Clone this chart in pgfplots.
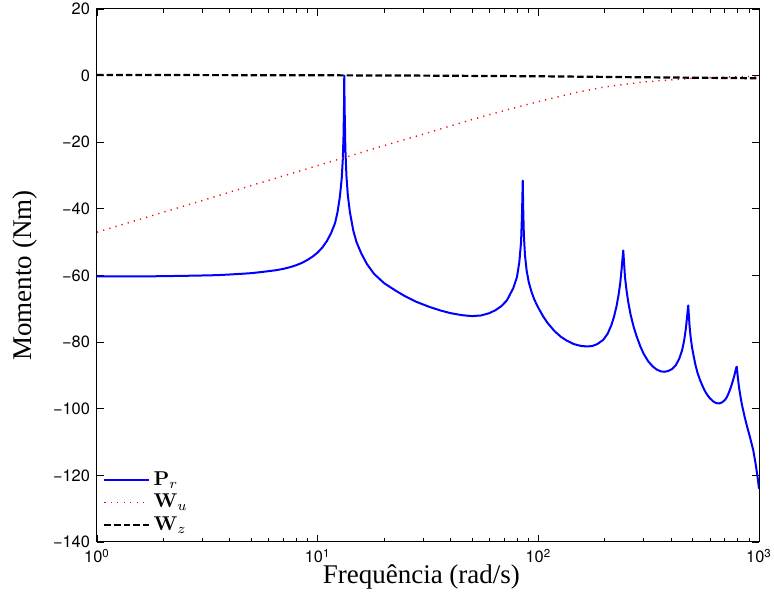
\documentclass[border=0pt]{standalone}
\usepackage[no-math]{fontspec}
\setmainfont{TeX Gyre Heros}
\newfontfamily\timesfont{Liberation Serif}
\usepackage{pgfplots}
\pgfplotsset{compat=1.18}

\begin{document}
\begin{tikzpicture}
\begin{axis}[
    name=ax,
    xmode=log,
    scale only axis,
    width=331pt, height=266.5pt,
    xmin=1, xmax=1000, ymin=-140, ymax=20,
    xtick={1,10,100,1000},
    xticklabels={10\textsuperscript{0},10\textsuperscript{1},10\textsuperscript{2},10\textsuperscript{3}},
    minor xtick={2,3,4,5,6,7,8,9,20,30,40,50,60,70,80,90,200,300,400,500,600,700,800,900},
    ytick={-140,-120,-100,-80,-60,-40,-20,0,20},
    yticklabels={−140,−120,−100,−80,−60,−40,−20,0,20},
    tick align=inside,
    major tick length=3.5pt, minor tick length=2pt,
    tick style={black, line width=0.4pt},
    axis line style={line width=0.5pt},
    ticklabel style={font=\fontsize{8.2}{9}\selectfont},
    xlabel={Frequência (rad/s)},
    ylabel={Momento (Nm)},
    label style={font=\timesfont\fontsize{13.5}{15}\selectfont},
    xlabel style={at={(axis description cs:0.49,-0.0657)}, anchor=center},
    ylabel style={at={(axis description cs:-0.109,0.5)}, anchor=center},
    legend style={draw=none, fill=none, at={(rel axis cs:0,0)}, anchor=south west,
        font=\fontsize{10}{11}\selectfont, row sep=-1pt},
    legend cell align=left,
    legend image code/.code={\draw[#1] (0pt,0pt) -- (22pt,0pt);},
]
\addplot[blue, line width=1pt, line join=round] coordinates {
(1,-60.3) (1.5,-60.3) (2,-60.2) (2.5,-60.1) (3,-60.0) (3.5,-59.9) (4,-59.7)
(4.5,-59.5) (5,-59.3) (5.5,-59.0) (6,-58.7) (6.5,-58.4) (7,-58.0) (7.5,-57.5)
(8,-56.9) (8.5,-56.2) (9,-55.3) (9.5,-54.3) (10,-53.1) (10.5,-51.6) (11,-49.7)
(11.5,-47.3) (12,-44.2) (12.3,-41) (12.6,-36.5) (12.85,-31) (13.0,-25)
(13.1,-18) (13.17,-8) (13.2,0) (13.25,-10) (13.35,-22) (13.5,-30) (13.7,-36)
(14,-41) (14.5,-46.5) (15,-50) (15.8,-53.5) (16.7,-56.5) (18,-59.5) (20,-62.3)
(22.5,-64.5) (25,-66.3) (28,-67.9) (32,-69.4) (36,-70.5) (40,-71.3) (45,-71.9)
(50,-72.2) (55,-72) (60,-71.3) (64,-70.4) (68,-69.2) (72,-67.5) (77,-63.8)
(80,-60.5) (82,-56) (83.5,-50) (84.3,-42) (84.7,-36) (85,-31.5) (85.4,-40)
(86,-48) (87,-54) (88.5,-58.5) (90.5,-62) (93,-64.8) (96,-67.3) (100,-69.7)
(105,-72.2) (110,-74.2) (118,-76.6) (126,-78.3) (134,-79.5) (145,-80.6)
(155,-81.1) (165,-81.3) (175,-81.2) (185,-80.6) (197,-79.3) (206,-77.5)
(214,-75) (220,-72.5) (226,-69.3) (231,-65.8) (235,-62.3) (238.5,-58)
(241,-54.5) (242.6,-52.5) (244.5,-56) (247,-60.5) (251,-64.5) (256,-68.3)
(262,-71.8) (270,-75.3) (279,-78.3) (290,-81.3) (300,-83.5) (315,-85.8)
(330,-87.3) (345,-88.3) (360,-88.8) (375,-88.9) (390,-88.6) (405,-88)
(420,-86.9) (435,-85) (448,-82.5) (458,-79.5) (466,-76) (472,-72.5) (476,-70)
(478,-69) (481,-72) (485,-75.5) (490,-78.5) (497,-81.5) (505,-84) (515,-86.8)
(527,-89.3) (540,-91.3) (555,-93.2) (570,-94.8) (585,-96) (600,-96.9)
(620,-97.8) (640,-98.3) (660,-98.4) (680,-98.1) (700,-97.4) (715,-96.5)
(730,-95.2) (745,-93.6) (760,-91.8) (772,-90.2) (782,-88.7) (790,-87.5)
(793,-87.4) (797,-88.8) (803,-91) (812,-93.6) (825,-96.5) (840,-99.3)
(860,-102.3) (880,-105) (910,-108.5) (942,-112.5) (965,-116.5) (985,-120.5)
(1000,-124)
};
\addlegendentry{$\mathbf{P}_r$}
\addplot[red, line width=0.7pt, dash pattern=on 0.6pt off 2.6pt] coordinates {
(1,-47.0) (2,-41.0) (3,-37.5) (5,-33.0) (7,-30.1) (10,-27.0) (15,-23.5)
(20,-21.0) (30,-17.6) (50,-13.2) (70,-10.5) (100,-7.8) (150,-5.0)
(200,-3.4) (300,-1.9) (500,-0.8) (700,-0.4) (1000,-0.2)
};
\addlegendentry{$\mathbf{W}_u$}
\addplot[black, line width=1.1pt, dash pattern=on 3.3pt off 1.5pt] coordinates {
(1,0.2) (10,0.1) (30,0) (100,-0.2) (300,-0.5) (1000,-0.8)
};
\addlegendentry{$\mathbf{W}_z$}
\end{axis}
\pgfresetboundingbox
\path ([shift={(-48.5pt,-27.5pt)}]ax.south west) rectangle ([shift={(7.5pt,4.5pt)}]ax.north east);
\end{tikzpicture}
\end{document}
